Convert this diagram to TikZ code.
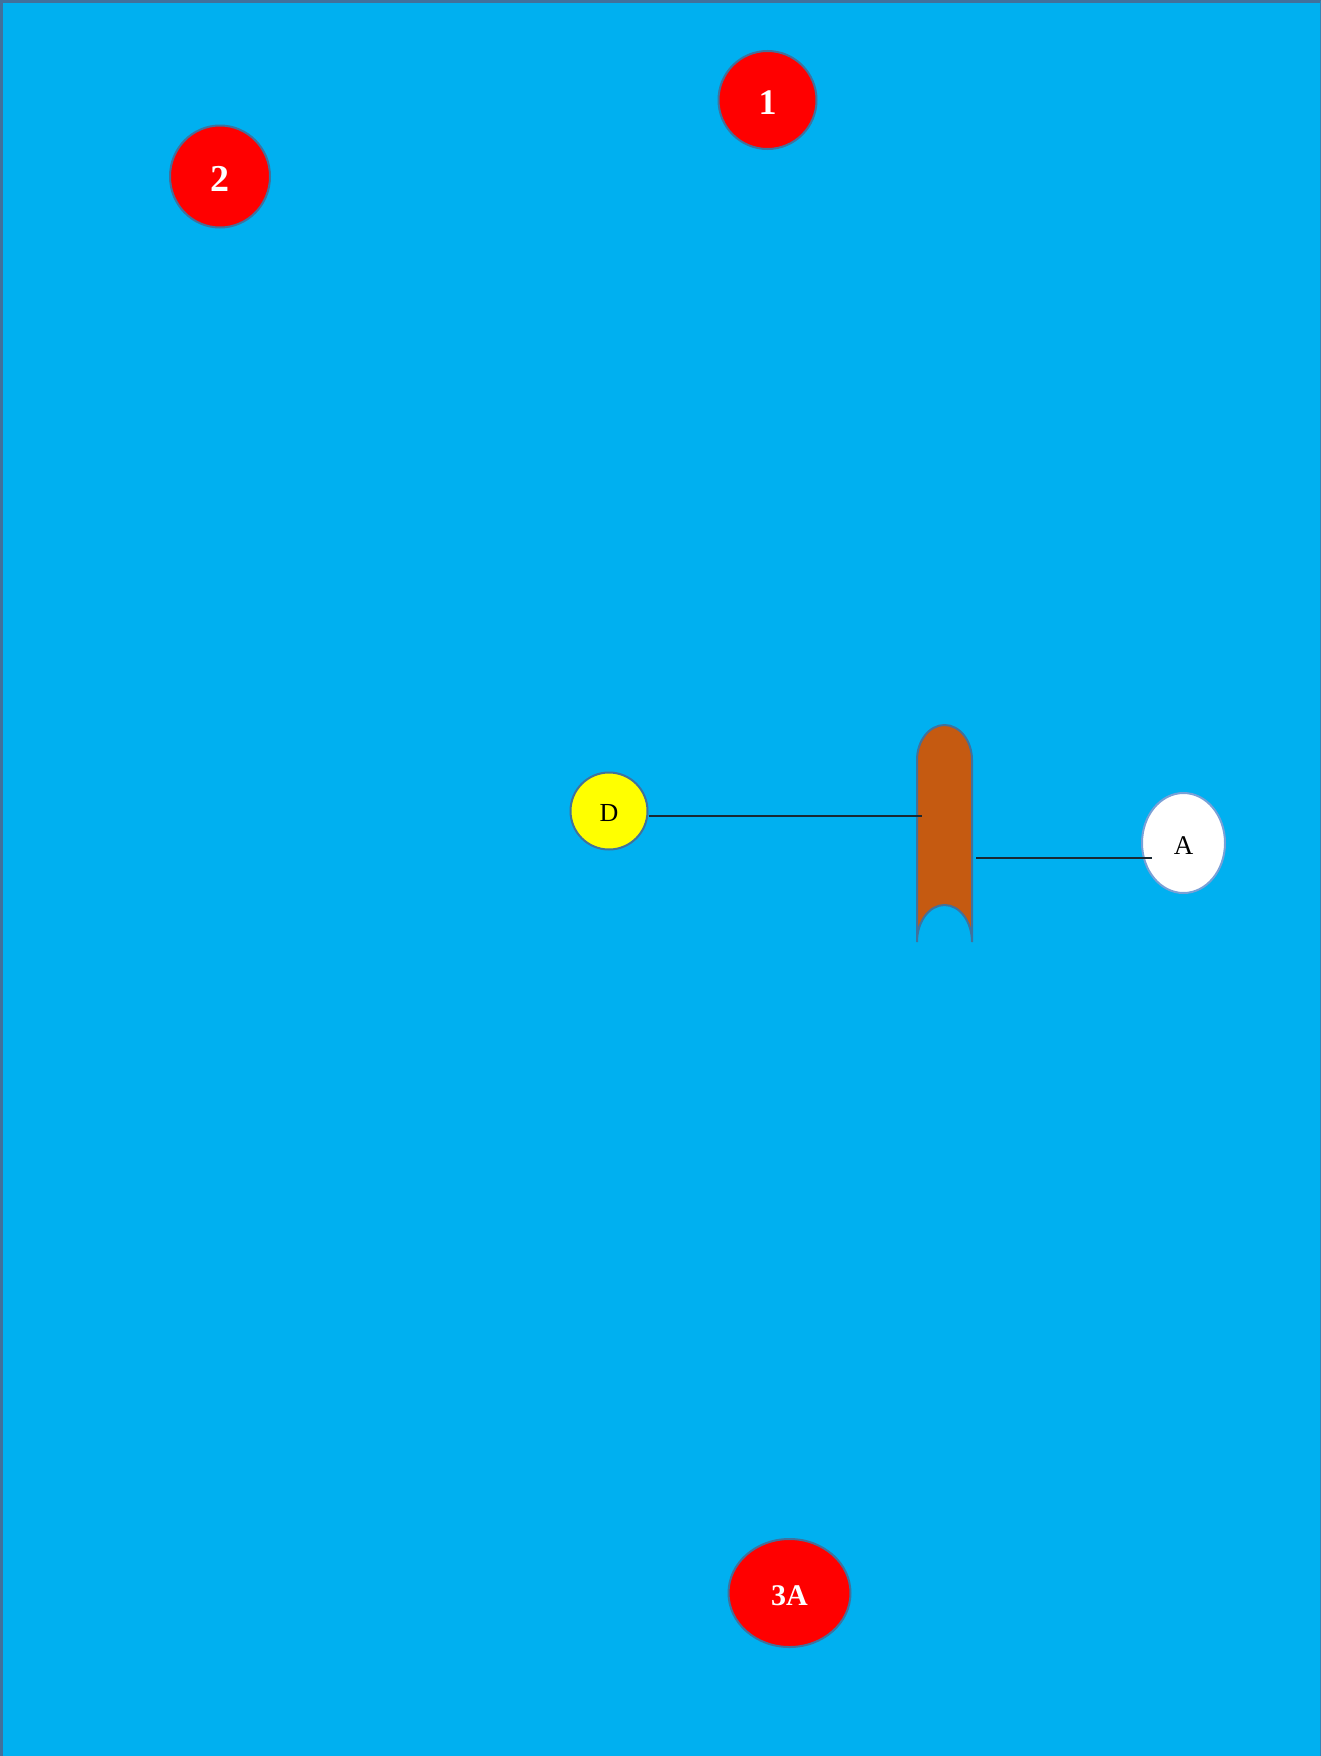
\documentclass[tikz,border=0pt]{standalone}
\usepackage{fontspec}
\setmainfont{Liberation Serif}
\usetikzlibrary{shapes.geometric}
\definecolor{bgblue}{RGB}{0,176,240}
\definecolor{edgeblue}{RGB}{65,113,156}
\definecolor{lightedge}{RGB}{120,160,215}
\definecolor{brownfill}{RGB}{197,90,17}
\definecolor{linecol}{RGB}{25,40,50}
\definecolor{pureyellow}{RGB}{255,255,0}
\definecolor{purered}{RGB}{255,0,0}
\newcommand{\lowtxt}[1]{\raisebox{-1.2pt}[\height][\depth]{#1}}
\tikzset{
  redball/.style={ellipse, fill=purered, draw=edgeblue, line width=1pt, inner sep=0pt,
    text=white, font=\bfseries},
  connector/.style={draw=linecol, line width=0.8pt},
}
\begin{document}
\begin{tikzpicture}[x=0.5pt,y=0.5pt]
\useasboundingbox (0,0) rectangle (1321,-1756);
\fill[bgblue] (0,0) rectangle (1321,-1756);
\draw[edgeblue, line width=1.4pt] (1.4,-1756) -- (1.4,-1.4) -- (1321,-1.4);
\draw[edgeblue!70!bgblue, line width=0.5pt] (1320.5,-1.4) -- (1320.5,-1756);
% red markers
\node[redball, minimum width=49pt, minimum height=49pt, font=\bfseries\fontsize{18}{20}\selectfont] (n1) at (767.5,-100) {\lowtxt{1}};
\node[redball, minimum width=50pt, minimum height=51pt, font=\bfseries\fontsize{19}{21}\selectfont] (n2) at (220,-176.5) {\lowtxt{2}};
\node[redball, minimum width=61pt, minimum height=54pt, font=\bfseries\fontsize{15}{17}\selectfont] (n3A) at (789.5,-1593) {\lowtxt{3A}};
% brown post
\filldraw[fill=brownfill, draw=edgeblue, line width=1pt]
  (917,-942) -- (917,-760)
  arc[start angle=180, end angle=0, x radius=13.75pt, y radius=17.5pt]
  -- (972,-942)
  arc[start angle=0, end angle=180, x radius=13.75pt, y radius=18.5pt];
\coordinate (postL) at (922,-816);
\coordinate (postR) at (976,-858);
% D and A
\node[circle, fill=pureyellow, draw=edgeblue, line width=1pt, minimum size=38.5pt, inner sep=0pt,
  font=\fontsize{13}{15}\selectfont] (D) at (609,-811) {\lowtxt{D}};
\node[ellipse, fill=white, draw=lightedge, line width=1pt, minimum width=41.5pt, minimum height=50pt,
  inner sep=0pt, font=\fontsize{13.5}{15}\selectfont] (A) at (1183.5,-843) {\lowtxt{A}};
\coordinate (Aend) at (1152,-858);
\draw[connector] ([yshift=-2.5pt]D.east) -- (postL);
\draw[connector] (postR) -- (Aend);
\end{tikzpicture}
\end{document}
